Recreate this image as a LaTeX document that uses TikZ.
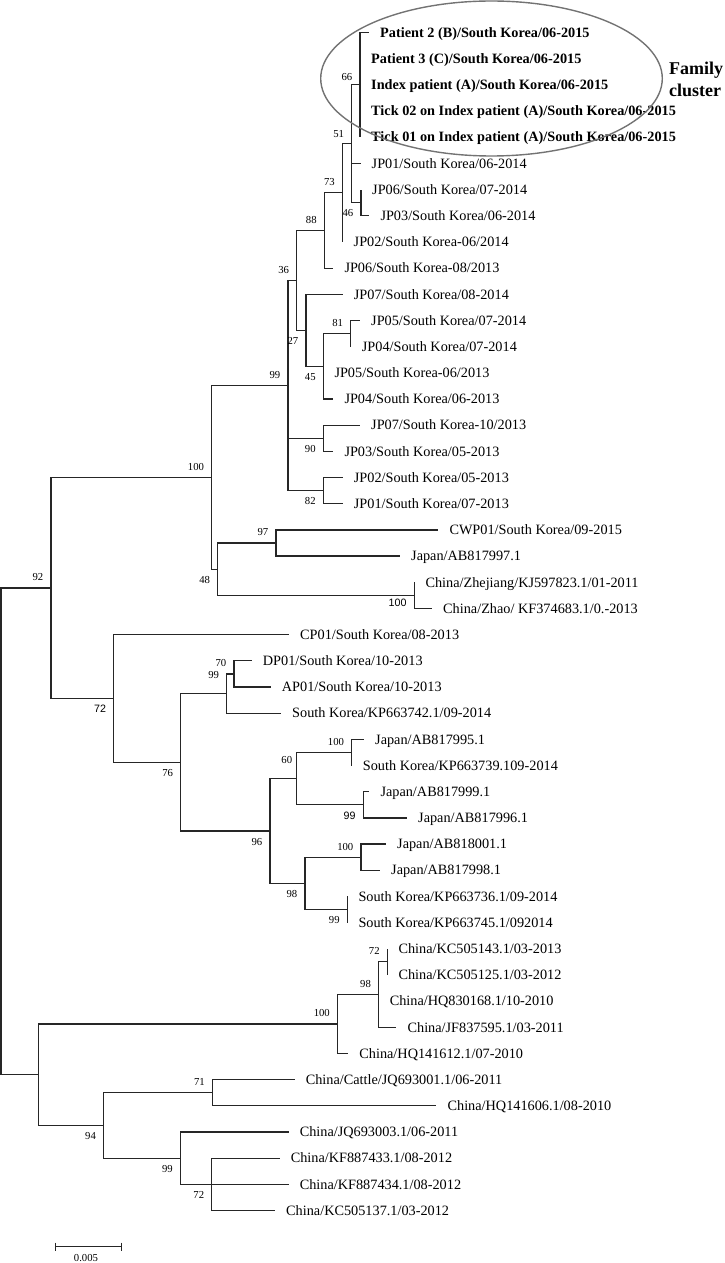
\documentclass[tikz,border=0pt]{standalone}
\usepackage{fontspec}
\setmainfont{Liberation Serif}
\setsansfont{Liberation Sans}
\usepackage{tikz}

\begin{document}
\begin{tikzpicture}[x=1pt,y=-26.18pt,
    tree/.style={draw=black!85,line width=1.2pt},
    leaf/.style={anchor=west,inner xsep=11pt,inner ysep=0pt,text height=9.45pt,text depth=0pt,
                 font=\fontsize{14.27}{16}\selectfont},
    leafb/.style={leaf,font=\fontsize{14.27}{16}\selectfont\bfseries},
    bs/.style={anchor=east,inner sep=0pt,text height=7.2pt,text depth=0pt,
               font=\fontsize{10.7}{12}\selectfont},
    bsup/.style={bs,xshift=-7.5pt,yshift=10.7pt},
    bsdn/.style={bs,xshift=-7.5pt,yshift=-10.7pt},
    bsans/.style={font=\fontsize{10.7}{12}\sffamily}]
\useasboundingbox (0,-0.2414) rectangle (725,48.002);

% internal nodes
\coordinate (root) at (1,31.5137);
\coordinate (n92) at (51,22.2148);
\coordinate (n100a) at (211.7,17.9922);
\coordinate (n99a) at (288,14.4844);
\coordinate (n36) at (296.7,10.4688);
\coordinate (n88) at (324.3,8.5625);
\coordinate (n73) at (342.5,7.125);
\coordinate (n51) at (351.7,5.25);
\coordinate (n66) at (360,3);
\coordinate (n46) at (361,7.5);
\coordinate (n27) at (306,12.375);
\coordinate (n45) at (323.3,13.75);
\coordinate (n81) at (350.7,12.5);
\coordinate (n90) at (323.3,16.5);
\coordinate (n82) at (323.3,18.5);
\coordinate (n48) at (217.7,21.5);
\coordinate (n97) at (276,20.5);
\coordinate (n100b) at (414.3,22.5);
\coordinate (n72b) at (113.7,26.4375);
\coordinate (n76) at (180.7,28.875);
\coordinate (n99b) at (226.7,26.25);
\coordinate (n70) at (234,25.5);
\coordinate (n96) at (270,31.5);
\coordinate (n60) at (296.7,29.5);
\coordinate (n100c) at (351.7,28.5);
\coordinate (n99c) at (363.3,30.5);
\coordinate (n98a) at (305,33.5);
\coordinate (n100d) at (361,32.5);
\coordinate (n99d) at (347.3,34.5);
\coordinate (nch) at (38.6,40.8125);
\coordinate (n100e) at (337.5,38.875);
\coordinate (n98b) at (378.6,37.75);
\coordinate (n72c) at (387.3,36.5);
\coordinate (n94) at (103.6,42.75);
\coordinate (n71) at (212.5,41.5);
\coordinate (n99e) at (180.4,44);
\coordinate (n72d) at (211.8,45);

% taxa
\node[leafb] (l1) at (369,1) {Patient 2 (B)/South Korea/06-2015};
\node[leafb] (l2) at (360,2) {Patient 3 (C)/South Korea/06-2015};
\node[leafb] (l3) at (360,3) {Index patient (A)/South Korea/06-2015};
\node[leafb] (l4) at (360,4) {Tick 02 on Index patient (A)/South Korea/06-2015};
\node[leafb] (l5) at (360,5) {Tick 01 on Index patient (A)/South Korea/06-2015};
\node[leaf] (l6) at (360.5,6) {JP01/South Korea/06-2014};
\node[leaf] (l7) at (361,7) {JP06/South Korea/07-2014};
\node[leaf] (l8) at (369.3,8) {JP03/South Korea/06-2014};
\node[leaf] (l9) at (342.5,9) {JP02/South Korea-06/2014};
\node[leaf] (l10) at (333.3,10) {JP06/South Korea-08/2013};
\node[leaf] (l11) at (342.7,11) {JP07/South Korea/08-2014};
\node[leaf] (l12) at (360,12) {JP05/South Korea/07-2014};
\node[leaf] (l13) at (350.7,13) {JP04/South Korea/07-2014};
\node[leaf] (l14) at (323.3,14) {JP05/South Korea-06/2013};
\node[leaf] (l15) at (333.3,15) {JP04/South Korea/06-2013};
\node[leaf] (l16) at (360,16) {JP07/South Korea-10/2013};
\node[leaf] (l17) at (333.3,17) {JP03/South Korea/05-2013};
\node[leaf] (l18) at (342.7,18) {JP02/South Korea/05-2013};
\node[leaf] (l19) at (342.7,19) {JP01/South Korea/07-2013};
\node[leaf] (l20) at (438.3,20) {CWP01/South Korea/09-2015};
\node[leaf] (l21) at (400,21) {Japan/AB817997.1};
\node[leaf] (l22) at (414.3,22) {China/Zhejiang/KJ597823.1/01-2011};
\node[leaf] (l23) at (432,23) {China/Zhao/ KF374683.1/0.-2013};
\node[leaf] (l24) at (289,24) {CP01/South Korea/08-2013};
\node[leaf] (l25) at (251.7,25) {DP01/South Korea/10-2013};
\node[leaf] (l26) at (270.7,26) {AP01/South Korea/10-2013};
\node[leaf] (l27) at (281,27) {South Korea/KP663742.1/09-2014};
\node[leaf] (l28) at (364,28) {Japan/AB817995.1};
\node[leaf] (l29) at (351.7,29) {South Korea/KP663739.109-2014};
\node[leaf] (l30) at (369.3,30) {Japan/AB817999.1};
\node[leaf] (l31) at (407,31) {Japan/AB817996.1};
\node[leaf] (l32) at (386,32) {Japan/AB818001.1};
\node[leaf] (l33) at (380,33) {Japan/AB817998.1};
\node[leaf] (l34) at (347.3,34) {South Korea/KP663736.1/09-2014};
\node[leaf] (l35) at (347.3,35) {South Korea/KP663745.1/092014};
\node[leaf] (l36) at (387.3,36) {China/KC505143.1/03-2013};
\node[leaf] (l37) at (387.3,37) {China/KC505125.1/03-2012};
\node[leaf] (l38) at (378.6,38) {China/HQ830168.1/10-2010};
\node[leaf] (l39) at (396.4,39) {China/JF837595.1/03-2011};
\node[leaf] (l40) at (348.2,40) {China/HQ141612.1/07-2010};
\node[leaf] (l41) at (294.6,41) {China/Cattle/JQ693001.1/06-2011};
\node[leaf] (l42) at (436.4,42) {China/HQ141606.1/08-2010};
\node[leaf] (l43) at (288.6,43) {China/JQ693003.1/06-2011};
\node[leaf] (l44) at (279.6,44) {China/KF887433.1/08-2012};
\node[leaf] (l45) at (288.6,45) {China/KF887434.1/08-2012};
\node[leaf] (l46) at (275,46) {China/KC505137.1/03-2012};

% branches
\draw[tree] (root) |- (n92) (root) |- (nch);
\draw[tree] (n92) |- (n100a) (n92) |- (n72b);
\draw[tree] (n100a) |- (n99a) (n100a) |- (n48);
\draw[tree] (n99a) |- (n36) (n99a) |- (n90) (n99a) |- (n82);
\draw[tree] (n36) |- (n88) (n36) |- (n27);
\draw[tree] (n88) |- (n73) (n88) |- (l10.west);
\draw[tree] (n73) |- (n51) (n73) |- (l9.west);
\draw[tree] (n51) |- (n66) (n51) |- (l6.west) (n51) |- (n46);
\draw[tree] (n66) |- (l1.west) (n66) |- (l2.west) (n66) |- (l3.west) (n66) |- (l4.west) (n66) |- (l5.west);
\draw[tree] (n46) |- (l7.west) (n46) |- (l8.west);
\draw[tree] (n27) |- (l11.west) (n27) |- (n45);
\draw[tree] (n45) |- (n81) (n45) |- (l14.west) (n45) |- (l15.west);
\draw[tree] (n81) |- (l12.west) (n81) |- (l13.west);
\draw[tree] (n90) |- (l16.west) (n90) |- (l17.west);
\draw[tree] (n82) |- (l18.west) (n82) |- (l19.west);
\draw[tree] (n48) |- (n97) (n48) |- (n100b);
\draw[tree] (n97) |- (l20.west) (n97) |- (l21.west);
\draw[tree] (n100b) |- (l22.west) (n100b) |- (l23.west);
\draw[tree] (n72b) |- (l24.west) (n72b) |- (n76);
\draw[tree] (n76) |- (n99b) (n76) |- (n96);
\draw[tree] (n99b) |- (n70) (n99b) |- (l27.west);
\draw[tree] (n70) |- (l25.west) (n70) |- (l26.west);
\draw[tree] (n96) |- (n60) (n96) |- (n98a);
\draw[tree] (n60) |- (n100c) (n60) |- (n99c);
\draw[tree] (n100c) |- (l28.west) (n100c) |- (l29.west);
\draw[tree] (n99c) |- (l30.west) (n99c) |- (l31.west);
\draw[tree] (n98a) |- (n100d) (n98a) |- (n99d);
\draw[tree] (n100d) |- (l32.west) (n100d) |- (l33.west);
\draw[tree] (n99d) |- (l34.west) (n99d) |- (l35.west);
\draw[tree] (nch) |- (n100e) (nch) |- (n94);
\draw[tree] (n100e) |- (n98b) (n100e) |- (l40.west);
\draw[tree] (n98b) |- (n72c) (n98b) |- (l38.west) (n98b) |- (l39.west);
\draw[tree] (n72c) |- (l36.west) (n72c) |- (l37.west);
\draw[tree] (n94) |- (n71) (n94) |- (n99e);
\draw[tree] (n71) |- (l41.west) (n71) |- (l42.west);
\draw[tree] (n99e) |- (l43.west) (n99e) |- (n72d);
\draw[tree] (n72d) |- (l44.west) (n72d) |- (l45.west) (n72d) |- (l46.west);

% bootstrap values
\node[bs,xshift=-7.5pt,yshift=8pt] (t66) at (n66) {66};
\node[bs,xshift=-7.5pt,yshift=10pt] (t51) at (n51) {51};
\node[bsdn] (t46) at (n46) {46};
\node[bsup] (t73) at (n73) {73};
\node[bsup] (t88) at (n88) {88};
\node[bsup] (t36) at (n36) {36};
\node[bsdn] (t27) at (n27) {27};
\node[bsup] (t81) at (n81) {81};
\node[bsdn] (t45) at (n45) {45};
\node[bsup] (t99a) at (n99a) {99};
\node[bsdn] (t90) at (n90) {90};
\node[bsdn] (t82) at (n82) {82};
\node[bsup] (t100a) at (n100a) {100};
\node[bsup] (t97) at (n97) {97};
\node[bsdn] (t48) at (n48) {48};
\node[bs,bsans,xshift=-7.5pt,yshift=-8pt] (t100b) at (n100b) {100};
\node[bsup] (t92) at (n92) {92};
\node[bsdn,bsans] (t72b) at (n72b) {72};
\node[bsdn] (t76) at (n76) {76};
\node[bsup] (t70) at (n70) {70};
\node[bs,xshift=-7.5pt,yshift=18.5pt] (t99b) at (n99b) {99};
\node[bsup] (t100c) at (n100c) {100};
\node[bs,xshift=-4.4pt,yshift=18.6pt] (t60) at (n60) {60};
\node[bsdn,bsans] (t99c) at (n99c) {99};
\node[bsdn] (t96) at (n96) {96};
\node[bsup] (t100d) at (n100d) {100};
\node[bsdn] (t98a) at (n98a) {98};
\node[bsdn] (t99d) at (n99d) {99};
\node[bsup] (t72c) at (n72c) {72};
\node[bsup] (t98b) at (n98b) {98};
\node[bsup] (t100e) at (n100e) {100};
\node[bsup] (t71) at (n71) {71};
\node[bsdn] (t94) at (n94) {94};
\node[bsdn] (t99e) at (n99e) {99};
\node[bsdn] (t72d) at (n72d) {72};

% family cluster
\draw[draw=black!55,line width=1.4pt] (491.5,2.757) ellipse [x radius=170.8pt,y radius=77.5pt];
\node[anchor=west,inner sep=0pt,align=left,font=\fontsize{18}{22}\selectfont\bfseries] (fam) at (669,2.795) {Family\\cluster};

% scale bar
\coordinate (sb1) at (55.4,47.379);
\coordinate (sb2) at (121.4,47.379);
\draw[tree] (sb1) -- (sb2);
\draw[tree] (sb1) ++(0,4pt) -- ++(0,-8pt);
\draw[tree] (sb2) ++(0,4pt) -- ++(0,-8pt);
\node[anchor=north,inner sep=0pt,yshift=-7.6pt,font=\fontsize{10.7}{12}\selectfont] (sbl) at (86,47.379) {0.005};
\end{tikzpicture}
\end{document}
